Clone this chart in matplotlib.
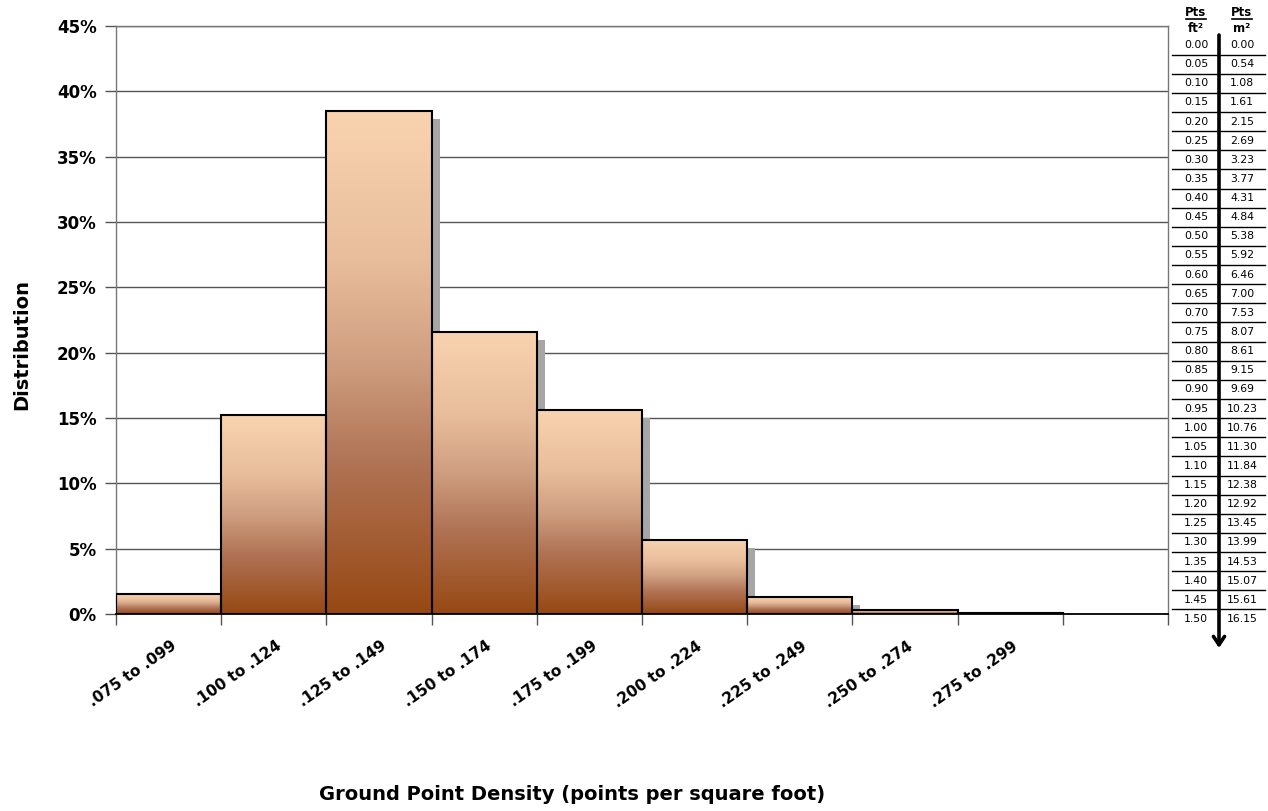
import numpy as np
import matplotlib
matplotlib.use("Agg")
import matplotlib.pyplot as plt
from matplotlib.colors import LinearSegmentedColormap
from matplotlib.patches import Rectangle, FancyArrowPatch
from matplotlib.lines import Line2D
import matplotlib.transforms as mtransforms

# Distribution of ground point density by bin
categories = [".075 to .099", ".100 to .124", ".125 to .149", ".150 to .174",
              ".175 to .199", ".200 to .224", ".225 to .249", ".250 to .274",
              ".275 to .299"]
distribution = [1.5, 15.2, 38.5, 21.6, 15.6, 5.7, 1.3, 0.3, 0.1]
y_ticks = [0, 5, 10, 15, 20, 25, 30, 35, 40, 45]

# Conversion table: points per square foot -> points per square metre
pts_ft2 = ["0.00", "0.05", "0.10", "0.15", "0.20", "0.25", "0.30", "0.35",
           "0.40", "0.45", "0.50", "0.55", "0.60", "0.65", "0.70", "0.75",
           "0.80", "0.85", "0.90", "0.95", "1.00", "1.05", "1.10", "1.15",
           "1.20", "1.25", "1.30", "1.35", "1.40", "1.45", "1.50"]
pts_m2 = ["0.00", "0.54", "1.08", "1.61", "2.15", "2.69", "3.23", "3.77",
          "4.31", "4.84", "5.38", "5.92", "6.46", "7.00", "7.53", "8.07",
          "8.61", "9.15", "9.69", "10.23", "10.76", "11.30", "11.84", "12.38",
          "12.92", "13.45", "13.99", "14.53", "15.07", "15.61", "16.15"]

W, H = 1268, 811
fig = plt.figure(figsize=(W / 100, H / 100), dpi=100)
plt.rcParams["font.family"] = ["DejaVu Sans"]


def fx(x):
    return x / W


def fy(y):
    return 1 - y / H


ax = fig.add_axes([fx(116), fy(614), fx(1168 - 116), (614 - 26) / H])
ax.set_xlim(0, 10)
ax.set_ylim(0, 45)

# gridlines and frame
ax.set_axisbelow(True)
ax.yaxis.grid(True, color="#555555", lw=1.0, zorder=0)
for side in ("top", "right", "left"):
    ax.spines[side].set_color("#777777")
    ax.spines[side].set_linewidth(1.0)
ax.spines["bottom"].set_color("black")
ax.spines["bottom"].set_linewidth(1.3)

# gradient fill: dark brown at the base, light peach at the top
cmap = LinearSegmentedColormap.from_list(
    "peach", [(0.0, "#974813"), (0.3, "#b07355"), (0.5, "#cf9e80"),
              (0.7, "#e8bd9b"), (1.0, "#f9d3b0")])
grad = np.linspace(0, 1, 256).reshape(-1, 1)

shadow_shift = mtransforms.ScaledTranslation(8 / 100, -8 / 100, fig.dpi_scale_trans)
for i, v in enumerate(distribution):
    x0 = i
    # drop shadow
    sh = Rectangle((x0, 0), 1, v, facecolor="#a6a6a6", edgecolor="none",
                   transform=ax.transData + shadow_shift, zorder=1)
    ax.add_patch(sh)
    im = ax.imshow(grad, cmap=cmap, origin="lower", aspect="auto",
                   extent=(x0, x0 + 1, 0, v), zorder=2, interpolation="bilinear")
    rect = Rectangle((x0, 0), 1, v, facecolor="none", edgecolor="black",
                     lw=1.5, zorder=3)
    ax.add_patch(rect)
    im.set_clip_path(rect)

ax.set_xlim(0, 10)
ax.set_ylim(0, 45)

# y axis
ax.set_yticks(y_ticks)
ax.set_yticklabels([f"{t}%" for t in y_ticks], fontsize=12, fontweight="bold")
ax.tick_params(axis="y", length=8, width=1, color="#555555", pad=6)

# x axis: tick marks at bin edges, labels at bin centres
ax.set_xticks(np.arange(len(categories)) + 0.5)
ax.set_xticklabels(categories, fontsize=11, fontweight="bold",
                   rotation=35, ha="right", va="center", rotation_mode="anchor")
ax.set_xticks(np.arange(0, 11), minor=True)
ax.tick_params(axis="x", which="major", length=0, pad=22)
ax.tick_params(axis="x", which="minor", length=8, width=1, color="#555555")
offset = mtransforms.ScaledTranslation(6 / 100, 0, fig.dpi_scale_trans)
for lbl in ax.get_xticklabels():
    lbl.set_transform(lbl.get_transform() + offset)

fig.text(fx(22), fy(345), "Distribution", rotation=90, ha="center", va="center",
         fontsize=14, fontweight="bold")
fig.text(fx(572), fy(795), "Ground Point Density (points per square foot)",
         ha="center", va="center", fontsize=14, fontweight="bold")

# conversion table on the right
col_ft, col_m = 1196, 1242
for cx in (col_ft, col_m):
    fig.text(fx(cx), fy(12), "Pts", ha="center", va="center", fontsize=8.5,
             fontweight="bold")
    fig.add_artist(Line2D([fx(cx - 10), fx(cx + 10)], [fy(19), fy(19)],
                          color="black", lw=1.2, transform=fig.transFigure))
fig.text(fx(col_ft), fy(28), "ft²", ha="center", va="center", fontsize=8.5, fontweight="bold")
fig.text(fx(col_m), fy(28), "m²", ha="center", va="center", fontsize=8.5, fontweight="bold")

row0, row_step = 45, (619 - 45) / (len(pts_ft2) - 1)
for k, (a, b) in enumerate(zip(pts_ft2, pts_m2)):
    yy = row0 + k * row_step
    fig.text(fx(col_ft), fy(yy), a, ha="center", va="center", fontsize=7.8)
    fig.text(fx(col_m), fy(yy), b, ha="center", va="center", fontsize=7.8)
    if k < len(pts_ft2) - 1:
        ly = yy + row_step / 2
        fig.add_artist(Line2D([fx(1172), fx(1265)], [fy(ly), fy(ly)],
                              color="black", lw=1.0, transform=fig.transFigure))

fig.add_artist(FancyArrowPatch(
    (fx(1219), fy(35)), (fx(1219), fy(648)), transform=fig.transFigure,
    arrowstyle="->,head_length=6,head_width=4", lw=2.6, color="black",
    mutation_scale=1, shrinkA=0, shrinkB=0))

fig.savefig("out.png", dpi=100)
